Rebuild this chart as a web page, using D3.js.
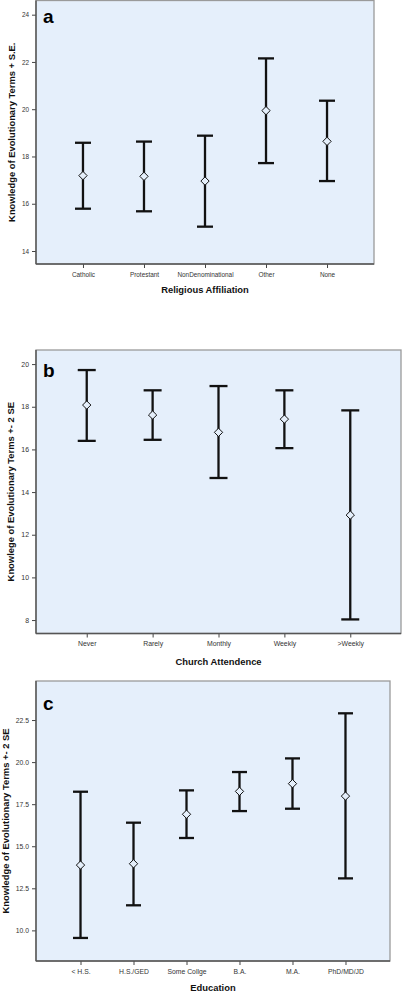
<!DOCTYPE html>
<html>
<head>
<meta charset="utf-8">
<script src="https://cdn.jsdelivr.net/npm/d3@7"></script>
<style>
  body { margin: 0; background: #fff; }
  svg { display: block; font-family: "Liberation Sans", Arial, sans-serif; }
</style>
</head>
<body>
<svg id="chart" width="403" height="992"></svg>
<script>
// Panel a: religious affiliation (mean +/- S.E.)
var religionCats = ["Catholic", "Protestant", "NonDenominational", "Other", "None"];
var religionMean = [17.19, 17.16, 16.96, 19.94, 18.64];
var religionLow  = [15.79, 15.68, 15.03, 17.72, 16.96];
var religionHigh = [18.58, 18.63, 18.88, 22.15, 20.36];
var religionTicks = [14, 16, 18, 20, 22, 24];

// Panel b: church attendance (mean +/- 2 SE)
var churchCats = ["Never", "Rarely", "Monthly", "Weekly", ">Weekly"];
var churchMean = [18.08, 17.61, 16.80, 17.42, 12.92];
var churchLow  = [16.40, 16.45, 14.66, 16.06, 8.03];
var churchHigh = [19.72, 18.77, 18.97, 18.77, 17.83];
var churchTicks = [8, 10, 12, 14, 16, 18, 20];

// Panel c: education (mean +/- 2 SE)
var eduCats = ["< H.S.", "H.S./GED", "Some Collge", "B.A.", "M.A.", "PhD/MD/JD"];
var eduMean = [13.88, 13.96, 16.90, 18.26, 18.72, 17.98];
var eduLow  = [9.55, 11.49, 15.49, 17.09, 17.23, 13.09];
var eduHigh = [18.24, 16.40, 18.32, 19.41, 20.22, 22.90];
var eduTicks = [10.0, 12.5, 15.0, 17.5, 20.0, 22.5];

var panels = [
    { letter: "a", cats: religionCats, mean: religionMean, low: religionLow, high: religionHigh,
      ticks: religionTicks, fmt: d3.format("d"), domain: [13.45, 24.6],
      box: { x0: 36, x1: 374, y0: 0.5, y1: 264 }, pad: 0.77, cap: 8, tickSize: 6.4,
      letterY: 23, titleY: 292.5, yTitleX: 14.5,
      yTitle: "Knowledge of Evolutionary Terms + S.E.", xTitle: "Religious Affiliation" },
    { letter: "b", cats: churchCats, mean: churchMean, low: churchLow, high: churchHigh,
      ticks: churchTicks, fmt: d3.format("d"), domain: [7.37, 20.66],
      box: { x0: 36, x1: 401, y0: 350, y1: 633.5 }, pad: 0.77, cap: 9, tickSize: 6.9,
      letterY: 377, titleY: 664.5, yTitleX: 13.5,
      yTitle: "Knowlege of Evolutionary Terms +- 2 SE", xTitle: "Church Attendence" },
    { letter: "c", cats: eduCats, mean: eduMean, low: eduLow, high: eduHigh,
      ticks: eduTicks, fmt: d3.format(".1f"), domain: [8.18, 24.82],
      box: { x0: 36, x1: 390, y0: 681, y1: 961 }, pad: 0.84, cap: 7.5, tickSize: 6.8,
      letterY: 710, titleY: 991, yTitleX: 8.5,
      yTitle: "Knowledge of Evolutionary Terms +- 2 SE", xTitle: "Education" }
];

var svg = d3.select("#chart");
var bg = "#e5effb";

panels.forEach(drawPanel);

function drawPanel(p) {
    var b = p.box;
    var x = d3.scalePoint().domain(p.cats).range([b.x0, b.x1]).padding(p.pad);
    var y = d3.scaleLinear().domain(p.domain).range([b.y1, b.y0]);
    var g = svg.append("g");

    // plot background and the light frame on top/right
    g.append("rect")
        .attr("x", b.x0).attr("y", b.y0)
        .attr("width", b.x1 - b.x0).attr("height", b.y1 - b.y0)
        .attr("fill", bg)
        .attr("stroke", "#9a9a9a")
        .attr("stroke-width", 1.3);

    // y axis
    var yAxis = g.append("g")
        .attr("transform", "translate(" + b.x0 + ",0)")
        .call(d3.axisLeft(y).tickValues(p.ticks).tickFormat(p.fmt).tickSize(4).tickPadding(3));
    yAxis.select(".domain").remove();
    yAxis.append("line")
        .attr("x1", 0).attr("x2", 0).attr("y1", b.y0).attr("y2", b.y1)
        .attr("stroke", "#555").attr("stroke-width", 1.4);

    // x axis
    var xAxis = g.append("g")
        .attr("transform", "translate(0," + b.y1 + ")")
        .call(d3.axisBottom(x).tickSize(4).tickPadding(4));
    xAxis.select(".domain").remove();
    xAxis.append("line")
        .attr("x1", b.x0).attr("x2", b.x1).attr("y1", 0).attr("y2", 0)
        .attr("stroke", "#555").attr("stroke-width", 1.4);

    g.selectAll(".tick line").attr("stroke", "#444").attr("stroke-width", 1);
    g.selectAll(".tick text")
        .attr("fill", "#333")
        .style("font-size", p.tickSize + "px")
        .style("font-family", "'Liberation Sans', Arial, sans-serif");

    // error bars
    var bars = g.selectAll(".bar")
        .data(p.cats)
        .enter().append("g")
        .attr("class", "bar");

    bars.append("line")
        .attr("x1", function(d) { return x(d); })
        .attr("x2", function(d) { return x(d); })
        .attr("y1", function(d, i) { return y(p.high[i]); })
        .attr("y2", function(d, i) { return y(p.low[i]); })
        .attr("stroke", "#111").attr("stroke-width", 2.3);

    [p.high, p.low].forEach(function(vals) {
        bars.append("line")
            .attr("x1", function(d) { return x(d) - p.cap; })
            .attr("x2", function(d) { return x(d) + p.cap; })
            .attr("y1", function(d, i) { return y(vals[i]); })
            .attr("y2", function(d, i) { return y(vals[i]); })
            .attr("stroke", "#111").attr("stroke-width", 2.3);
    });

    // hollow diamond at the mean
    var diamond = d3.symbol().type(d3.symbolDiamond2).size(44);
    bars.append("path")
        .attr("d", diamond)
        .attr("transform", function(d, i) {
            return "translate(" + x(d) + "," + y(p.mean[i]) + ")";
        })
        .attr("fill", bg)
        .attr("stroke", "#111").attr("stroke-width", 1);

    // panel letter
    g.append("text")
        .attr("x", b.x0 + 7).attr("y", p.letterY)
        .style("font-size", "19px").style("font-weight", "bold")
        .attr("fill", "#000")
        .text(p.letter);

    // axis titles
    g.append("text")
        .attr("x", (b.x0 + b.x1) / 2).attr("y", p.titleY)
        .attr("text-anchor", "middle")
        .style("font-size", "9.4px").style("font-weight", "bold")
        .attr("fill", "#111")
        .text(p.xTitle);

    g.append("text")
        .attr("transform", "translate(" + p.yTitleX + "," + (b.y0 + b.y1) / 2 + ") rotate(-90)")
        .attr("text-anchor", "middle")
        .style("font-size", "9.4px").style("font-weight", "bold")
        .attr("fill", "#111")
        .text(p.yTitle);
}
</script>
</body>
</html>
